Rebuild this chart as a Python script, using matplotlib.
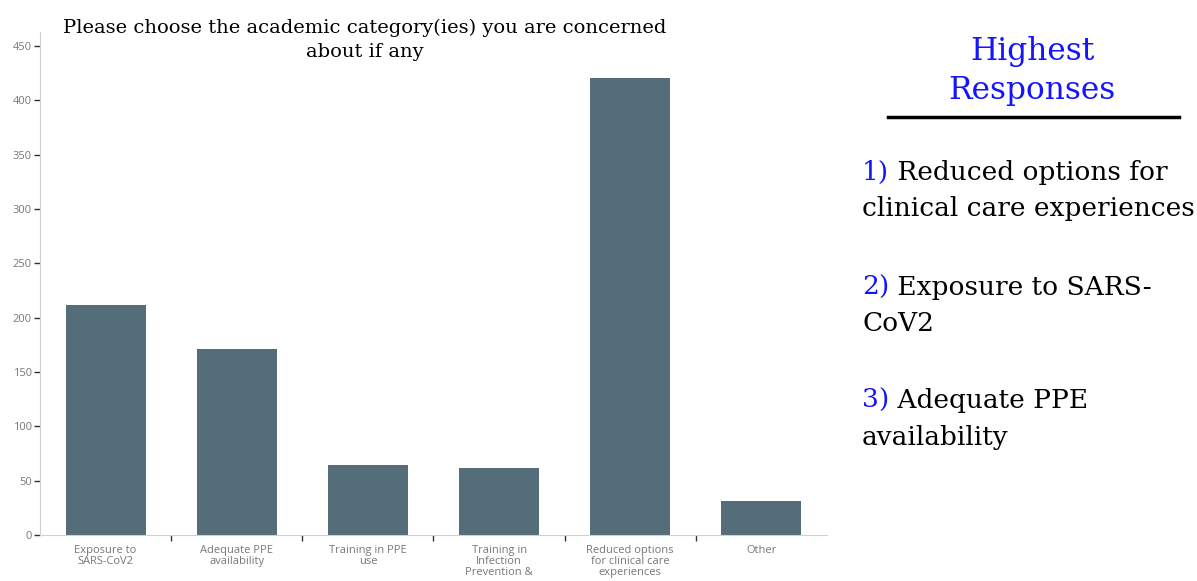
import matplotlib.pyplot as plt
import numpy as np

W, H = 1197, 581

categories = ["Exposure to\nSARS-CoV2", "Adequate PPE\navailability", "Training in PPE\nuse",
              "Training in\nInfection\nPrevention &", "Reduced options\nfor clinical care\nexperiences", "Other"]
counts = [212, 171, 64, 62, 421, 31]
yticks = [0, 50, 100, 150, 200, 250, 300, 350, 400, 450]

title = "Please choose the academic category(ies) you are concerned\nabout if any"
side_title = "Highest\nResponses"
ranks = ["1)", "2)", "3)"]
top_lines = [["Reduced options for", "clinical care experiences"],
             ["Exposure to SARS-", "CoV2"],
             ["Adequate PPE", "availability"]]

BAR = "#556d78"
BLUE = "#1414ff"
SERIF = "DejaVu Serif"

fig = plt.figure(figsize=(W / 100, H / 100), dpi=100)
ax = fig.add_axes([40 / W, 1 - 535 / H, (827 - 40) / W, (535 - 32) / H])

x = np.arange(len(categories))
ax.bar(x, counts, width=0.61, color=BAR)
ax.set_xlim(-0.5, len(categories) - 0.5)
ax.set_ylim(0, 463)

for s in ["top", "right"]:
    ax.spines[s].set_visible(False)
for s in ["left", "bottom"]:
    ax.spines[s].set_color("#d0d0d0")
    ax.spines[s].set_linewidth(0.8)

ax.set_yticks(yticks)
ax.tick_params(axis="y", length=4, width=1, color="#333333", labelsize=8,
               labelcolor="#777777", pad=2)
for lab in ax.get_yticklabels():
    lab.set_family("Open Sans")

ax.set_xticks(x)
ax.set_xticklabels(categories, family="Open Sans", fontsize=8, color="#777777",
                   linespacing=1.0)
ax.tick_params(axis="x", length=0, pad=7)
ax.set_xticks(x[:-1] + 0.5, minor=True)
ax.tick_params(axis="x", which="minor", length=4, width=1, color="#333333")

# title baseline refers to the last line
fig.text(365 / W, 1 - 57 / H, title, ha="center", va="baseline", family=SERIF,
         fontsize=14, linespacing=1.45)

# side panel
fig.text(1032 / W, 1 - 99 / H, side_title, ha="center", va="baseline", family=SERIF,
         fontsize=22.5, color=BLUE, linespacing=1.35)
fig.add_artist(plt.Line2D([888 / W, 1179 / W], [1 - 117 / H, 1 - 117 / H],
                          color="black", lw=2.5, transform=fig.transFigure))

baselines = [(180, 216), (295, 331), (408, 445)]
for rank, lines, (b1, b2) in zip(ranks, top_lines, baselines):
    t = fig.text(862 / W, 1 - b1 / H, rank, ha="left", va="baseline", family=SERIF,
                 fontsize=19, color=BLUE)
    ax.annotate(" " + lines[0], xy=(1, 0), xycoords=t, ha="left", va="bottom",
                family=SERIF, fontsize=19, color="black", annotation_clip=False)
    fig.text(862 / W, 1 - b2 / H, lines[1], ha="left", va="baseline", family=SERIF,
             fontsize=19, color="black")

fig.savefig("out.png", dpi=100)
